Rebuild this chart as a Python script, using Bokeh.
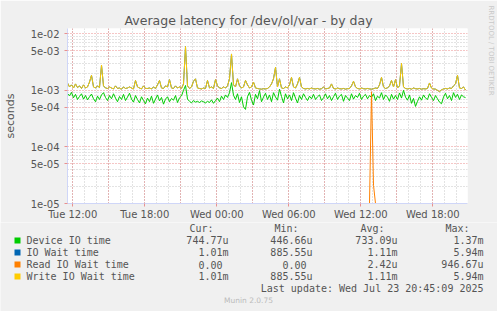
import numpy as np
from bokeh.plotting import figure
from bokeh.layouts import column
from bokeh.models import Range1d, FixedTicker, CustomJSTickFormatter, Title
from bokeh.core.properties import value
from bokeh.embed import file_html
from bokeh.resources import INLINE

TITLE = "Average latency for /dev/ol/var - by day"
Y_LABEL = "seconds"

# time axis: hours since Tue 00:00, one sample every 10 minutes
X_START_H = 11.558
X_SPAN_H = 33.333
STEP_H = 1.0 / 6.0

X_TICKS = [12, 18, 24, 30, 36, 42]
X_TICK_LABELS = ["Tue 12:00", "Tue 18:00", "Wed 00:00", "Wed 06:00", "Wed 12:00", "Wed 18:00"]

Y_MIN = 1e-05
Y_MAX = 1.24e-02
Y_TICKS = [1e-05, 5e-05, 1e-04, 5e-04, 1e-03, 5e-03, 1e-02]
Y_TICK_LABELS = ["1e-05", "5e-05", "1e-04", "5e-04", "1e-03", "5e-03", "1e-02"]

# values in microseconds, 200 samples each
DEVICE_US = [
    880, 800, 920, 740, 850, 690, 780, 870, 700, 810,
    680, 770, 860, 710, 630, 790, 690, 830, 910, 750,
    660, 810, 710, 870, 730, 630, 780, 690, 850, 660,
    760, 890, 700, 620, 810, 690, 600, 770, 660, 580,
    730, 630, 790, 590, 700, 830, 650, 750, 570, 700,
    770, 630, 720, 670, 810, 610, 740, 800, 1000, 1220,
    700, 640, 600, 660, 620, 640, 610, 650, 630, 600,
    640, 610, 680, 590, 660, 730, 630, 790, 690, 830,
    750, 910, 1370, 820, 690, 870, 610, 770, 510, 460,
    770, 920, 670, 550, 850, 710, 990, 630, 760, 890,
    690, 830, 630, 910, 760, 670, 1050, 780, 600, 870,
    710, 830, 660, 910, 730, 600, 810, 690, 870, 750,
    660, 790, 710, 850, 690, 770, 830, 660, 740, 870,
    710, 810, 660, 770, 890, 690, 790, 850, 640, 810,
    730, 660, 870, 700, 810, 750, 890, 690, 790, 850,
    710, 810, 750, 870, 660, 790, 730, 910, 690, 830,
    760, 640, 850, 700, 810, 690, 900, 730, 1000, 760,
    670, 830, 590, 720, 520, 640, 770, 670, 830, 730,
    690, 870, 750, 660, 810, 710, 620, 580, 760, 890,
    710, 810, 660, 910, 750, 850, 690, 830, 770, 745,
]

WRITE_US = [
    1350, 1150, 1250, 1100, 1300, 1120, 1200, 1080, 1250, 1100,
    1150, 1400, 1850, 1150, 1100, 1200, 1120, 2800, 1200, 1100,
    1080, 1150, 1100, 1060, 1200, 1080, 1100, 1050, 1150, 1080,
    1100, 1150, 1100, 1060, 1500, 1150, 1100, 1060, 1200, 1080,
    1080, 1100, 1060, 1150, 1080, 1250, 1500, 1100, 1080, 1200,
    1150, 1550, 1100, 1080, 1200, 1100, 1150, 1080, 1300, 5940,
    1200, 1080, 1150, 1450, 1600, 1100, 1080, 1060, 1100, 1080,
    1500, 1100, 1150, 1080, 1550, 1200, 1100, 1080, 1150, 1100,
    1200, 1600, 4400, 1250, 1150, 1600, 1200, 1100, 1150, 1500,
    1250, 1100, 1150, 1400, 1100, 1080, 1060, 1050, 1070, 1060,
    1080, 1150, 1300, 1600, 2550, 1150, 1600, 1100, 1080, 1150,
    1100, 1250, 1700, 1150, 1100, 1300, 1700, 1150, 1080, 1060,
    1080, 1060, 1100, 1070, 1060, 1080, 1050, 1070, 1150, 1060,
    1080, 1100, 1300, 1080, 1060, 1100, 1070, 1060, 1080, 1050,
    1070, 1080, 1200, 1450, 1150, 1080, 1060, 1100, 1070, 1060,
    1080, 1060, 1050, 1070, 1100, 1080, 1250, 1700, 1150, 1080,
    1100, 1200, 1500, 1150, 1550, 1100, 1200, 3000, 1150, 1080,
    1060, 1080, 1050, 1100, 1070, 1060, 1080, 1050, 1070, 1060,
    1080, 1350, 1100, 1060, 1050, 1000, 950, 1020, 1060, 1080,
    1060, 1100, 1080, 1200, 1300, 1850, 1100, 1080, 1150, 1010,
]

IOWAIT_US = list(WRITE_US)  # identical statistics to Write IO Wait time

READ_US = [
    0, 0, 0, 0, 0, 0, 0, 0, 0, 0, 0, 0, 0, 0, 0, 0, 0, 0, 0, 0,
    0, 0, 0, 0, 0, 0, 0, 0, 0, 0, 0, 0, 0, 0, 0, 0, 0, 0, 0, 0,
    0, 0, 0, 0, 0, 0, 0, 0, 0, 0, 0, 0, 0, 0, 0, 0, 0, 0, 0, 0,
    0, 0, 0, 0, 0, 0, 0, 0, 0, 0, 0, 0, 0, 0, 0, 0, 0, 0, 0, 0,
    0, 0, 0, 0, 0, 0, 0, 0, 0, 0, 0, 0, 0, 0, 0, 0, 0, 0, 0, 0,
    0, 0, 0, 0, 0, 0, 0, 0, 0, 0, 0, 0, 0, 0, 0, 0, 0, 0, 0, 0,
    0, 0, 0, 0, 0, 0, 0, 0, 0, 0, 0, 0, 0, 0, 0, 0, 0, 0, 0, 0,
    0, 0, 0, 0, 0, 0, 0, 0, 0, 0, 0, 0, 946.67, 21, 0, 0, 0, 0, 0, 0,
    0, 0, 0, 0, 0, 0, 0, 0, 0, 0, 0, 0, 0, 0, 0, 0, 0, 0, 0, 0,
    0, 0, 0, 0, 0, 0, 0, 0, 0, 0, 0, 0, 0, 0, 0, 0, 0, 0, 0, 0,
]

NAMES = ["Device IO time", "IO Wait time", "Read IO Wait time", "Write IO Wait time"]
COLORS = ["#00CC00", "#0066B3", "#FF8000", "#FFCC00"]
HEADERS = ["Cur:", "Min:", "Avg:", "Max:"]
CUR = ["744.77u", "1.01m", "0.00", "1.01m"]
MIN = ["446.66u", "885.55u", "0.00", "885.55u"]
AVG = ["733.09u", "1.11m", "2.42u", "1.11m"]
MAX = ["1.37m", "5.94m", "946.67u", "5.94m"]
LAST_UPDATE = "Last update: Wed Jul 23 20:45:09 2025"
FOOTER = "Munin 2.0.75"
SIDE = "RRDTOOL / TOBI OETIKER"

# ---------------------------------------------------------------
W = 497
H_MAIN, H_LEG = 222, 89
FL, FR, FT, FB = 67, 467, 28, 203  # frame edges in canvas px
FONT_COL = "#555555"
BG = "#F0F0F0"

x = X_START_H + STEP_H * np.arange(len(DEVICE_US))
dev = np.array(DEVICE_US) * 1e-6
iow = np.array(IOWAIT_US) * 1e-6
rd = np.maximum(np.array(READ_US) * 1e-6, Y_MIN)  # rrdtool clamps to the bottom
wr = np.array(WRITE_US) * 1e-6

p = figure(width=W, height=H_MAIN, y_axis_type="log", title=TITLE,
           x_range=Range1d(X_START_H, X_START_H + X_SPAN_H),
           y_range=Range1d(Y_MIN, Y_MAX),
           output_backend="svg", toolbar_location=None,
           min_border_left=FL, min_border_right=W - FR,
           min_border_top=FT, min_border_bottom=H_MAIN - FB)
p.frame_align = False
p.background_fill_color = "white"
p.border_fill_color = BG
p.outline_line_color = None

p.title.align = "left"
p.title.offset = 57
p.title.standoff = 2
p.title.text_font = "DejaVu Sans"
p.title.text_font_size = "12.5px"
p.title.text_font_style = "normal"
p.title.text_color = FONT_COL

# right-hand vendor text: an empty spacer title pushes it away from the frame
p.add_layout(Title(text=" ", text_font_size="1px", standoff=15), "right")
p.add_layout(Title(text=SIDE, align="left", offset=-23, vertical_align="middle",
                   standoff=0, text_font="DejaVu Sans", text_font_size="7px",
                   text_font_style="normal", text_color="#C8C8C8"), "right")

# y axis
y_minor = [m * d for d in (1e-05, 1e-04, 1e-03) for m in (2, 3, 4, 6, 7, 8, 9)]
p.yaxis.ticker = FixedTicker(ticks=Y_TICKS, minor_ticks=y_minor)
p.yaxis.formatter = CustomJSTickFormatter(args=dict(tv=Y_TICKS, tl=Y_TICK_LABELS), code="""
let b = 0, bd = Infinity;
for (let i = 0; i < tv.length; i++) { const d = Math.abs(Math.log(tick) - Math.log(tv[i])); if (d < bd) { bd = d; b = i; } }
return tl[b];
""")
p.yaxis.axis_label = Y_LABEL
p.yaxis.axis_label_text_font = "DejaVu Sans"
p.yaxis.axis_label_text_font_size = "11px"
p.yaxis.axis_label_text_font_style = "normal"
p.yaxis.axis_label_text_color = FONT_COL
p.yaxis.axis_label_standoff = 11

# x axis
p.xaxis.ticker = FixedTicker(ticks=X_TICKS)
p.xaxis.formatter = CustomJSTickFormatter(args=dict(tv=X_TICKS, tl=X_TICK_LABELS), code="""
let b = 0, bd = Infinity;
for (let i = 0; i < tv.length; i++) { const d = Math.abs(tick - tv[i]); if (d < bd) { bd = d; b = i; } }
return tl[b];
""")
x_major_grid = list(np.arange(X_TICKS[0], X_START_H + X_SPAN_H, 3.0))
x_minor_grid = list(np.arange(X_TICKS[0], X_START_H + X_SPAN_H, 1.0))
p.xgrid.ticker = FixedTicker(ticks=x_major_grid, minor_ticks=x_minor_grid)

for ax in (p.xaxis[0], p.yaxis[0]):
    ax.axis_line_color = "#CFD6F8"
    ax.major_tick_line_color = "#E89090"
    ax.major_tick_out = 3
    ax.major_tick_in = 0
    ax.minor_tick_line_color = None
    ax.major_label_text_font = "DejaVu Sans"
    ax.major_label_text_font_size = "10px"
    ax.major_label_text_color = FONT_COL
p.xaxis.major_label_text_line_height = 1.0
p.yaxis.major_label_standoff = 4
p.xaxis.major_label_standoff = 2

for g in (p.xgrid[0], p.ygrid[0]):
    g.grid_line_color = "#E05050"
    g.grid_line_alpha = 0.65
    g.grid_line_dash = "1 2"
    g.minor_grid_line_color = "#909090"
    g.minor_grid_line_alpha = 0.5
    g.minor_grid_line_dash = "1 2"

# series
p.line(x, dev, line_color=COLORS[0], line_width=1)
p.line(x, iow, line_color=COLORS[1], line_width=1)
p.line(x, rd, line_color=COLORS[2], line_width=1)
p.line(x, wr, line_color=COLORS[3], line_width=1)

# ---------------- legend panel (coordinates = canvas px) ----------------
q = figure(width=W, height=H_LEG, x_range=Range1d(0, W), y_range=Range1d(H_MAIN + H_LEG, H_MAIN),
           output_backend="svg", toolbar_location=None,
           x_axis_location=None, y_axis_location=None,
           min_border_left=0, min_border_right=0, min_border_top=0, min_border_bottom=0)
q.frame_align = False
q.grid.visible = False
q.outline_line_color = None
q.background_fill_color = BG
q.border_fill_color = BG

MONO = "DejaVu Sans Mono"
CW = 6.02


def txt(cx, cy, t, align="left", font=MONO, size="10px", color=FONT_COL):
    q.text(x=[cx], y=[cy], text=[t], text_font=value(font), text_font_size=value(size),
           text_color=color, text_align=align, text_baseline="middle")


col_edges = [228, 312, 397, 483]
hdr_edges = [213, 298, 384, 469]
for h, e in zip(HEADERS, hdr_edges):
    txt(e, 228, h, align="right")
row_y = [240, 252, 264, 276]
for k in range(4):
    cy = row_y[k]
    q.rect(x=[17], y=[cy], width=6, height=6, fill_color=COLORS[k], line_color=None)
    txt(26, cy, NAMES[k])
    for vals, e in zip((CUR, MIN, AVG, MAX), col_edges):
        v = vals[k]
        right = e - (CW if v[-1].isdigit() else 0)
        txt(right, cy, v, align="right")
txt(483, 288, LAST_UPDATE, align="right")
txt(248, 300, FOOTER, align="center", font="DejaVu Sans", size="7.5px", color="#BBBBBB")

layout = column(p, q, spacing=0)
open("out.html", "w").write(file_html(layout, INLINE))
